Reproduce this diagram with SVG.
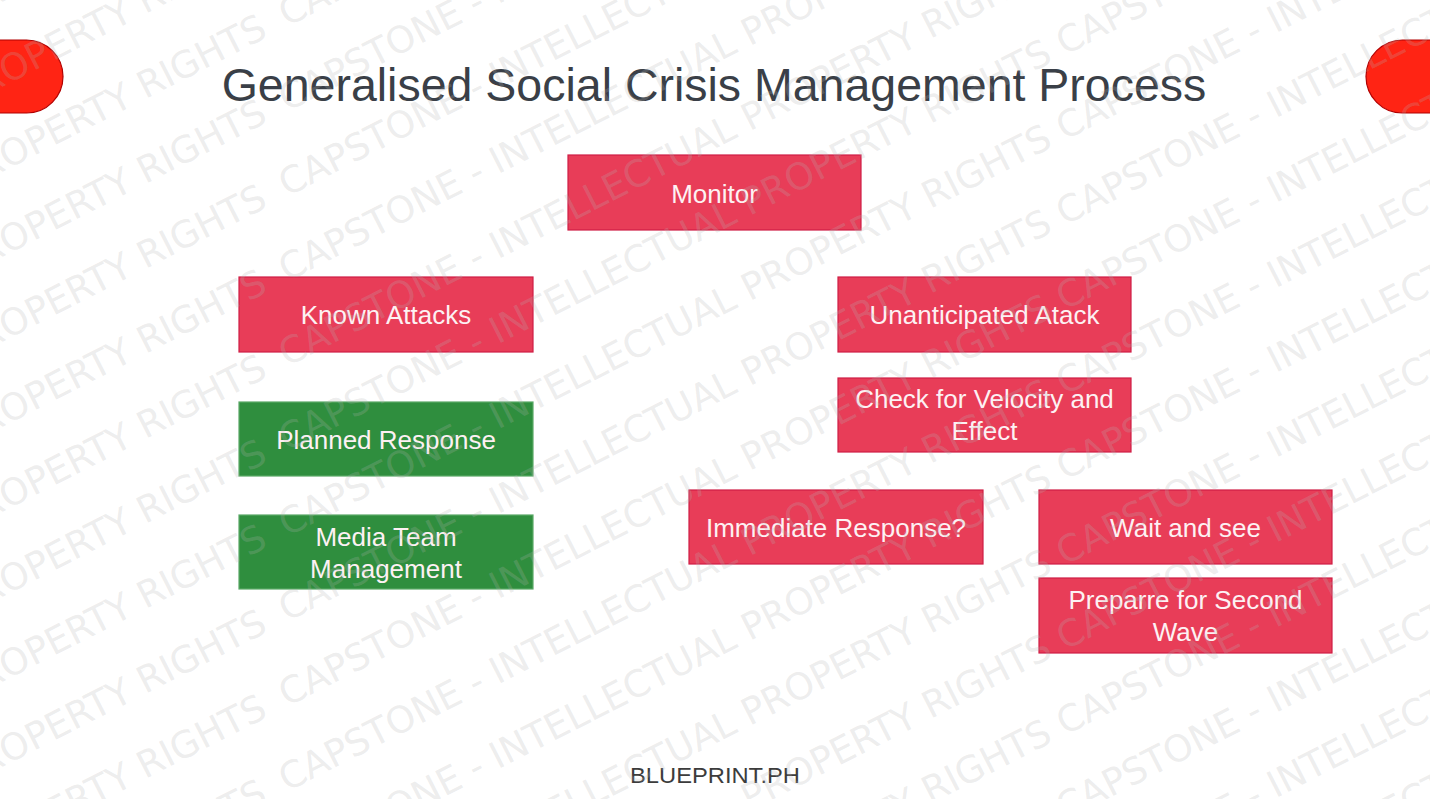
<svg xmlns="http://www.w3.org/2000/svg" width="1430" height="799" viewBox="0 0 1430 799">
  <style>
    .box-red { fill: #e83d58; stroke: #cf1d45; stroke-width: 1.2; }
    .box-green { fill: #2f8e3e; stroke: #5aa867; stroke-width: 1.2; }
    .lbl { font-family: "Liberation Sans", Arial, sans-serif; font-size: 26px; fill: #fdf1f3; text-anchor: middle; }
    .pill { fill: #ff2414; stroke: #b20000; stroke-width: 1.2; }
    .wm { font-family: "DejaVu Sans", Verdana, sans-serif; font-size: 37px; fill: #b4b4b4; fill-opacity: 0.24; }
    .wm-end { text-anchor: end; }
  </style>
  <rect width="1430" height="799" fill="#ffffff"/>

  <g id="decor">
    <rect class="pill" x="-40" y="40" width="103" height="73" rx="36.5"/>
    <rect class="pill" x="1366" y="40" width="110" height="73" rx="36.5"/>
  </g>

  <text id="title" x="714" y="101" font-family="Liberation Sans, Arial, sans-serif" font-size="46.5" fill="#3a3f47" text-anchor="middle">Generalised Social Crisis Management Process</text>

  <g id="connectors"></g>

  <g id="node-monitor">
    <rect class="box-red" x="568" y="155" width="293" height="75"/>
    <text class="lbl" x="714.5" y="203">Monitor</text>
  </g>
  <g id="node-known">
    <rect class="box-red" x="239" y="277" width="294" height="75"/>
    <text class="lbl" x="386" y="324">Known Attacks</text>
  </g>
  <g id="node-planned">
    <rect class="box-green" x="239" y="402" width="294" height="74"/>
    <text class="lbl" x="386" y="449">Planned Response</text>
  </g>
  <g id="node-media">
    <rect class="box-green" x="239" y="515" width="294" height="74"/>
    <text class="lbl" x="386" y="546">Media Team</text>
    <text class="lbl" x="386" y="578">Management</text>
  </g>
  <g id="node-unanticipated">
    <rect class="box-red" x="838" y="277" width="293" height="75"/>
    <text class="lbl" x="984.5" y="324">Unanticipated Atack</text>
  </g>
  <g id="node-check">
    <rect class="box-red" x="838" y="378" width="293" height="74"/>
    <text class="lbl" x="984.5" y="408">Check for Velocity and</text>
    <text class="lbl" x="984.5" y="440">Effect</text>
  </g>
  <g id="node-immediate">
    <rect class="box-red" x="689" y="490" width="294" height="74"/>
    <text class="lbl" x="836" y="537">Immediate Response?</text>
  </g>
  <g id="node-wait">
    <rect class="box-red" x="1039" y="490" width="293" height="74"/>
    <text class="lbl" x="1185.5" y="537">Wait and see</text>
  </g>
  <g id="node-prepare">
    <rect class="box-red" x="1039" y="578" width="293" height="75"/>
    <text class="lbl" x="1185.5" y="609">Preparre for Second</text>
    <text class="lbl" x="1185.5" y="641">Wave</text>
  </g>

  <text id="footer" x="715" y="783" font-family="Liberation Sans, Arial, sans-serif" font-size="22" fill="#3c3c3c" text-anchor="middle" textLength="170" lengthAdjust="spacingAndGlyphs">BLUEPRINT.PH</text>

  <g id="watermark" transform="rotate(-27)">
    <text class="wm wm-end" x="339.2" y="-72.8">CAPSTONE - INTELLECTUAL PROPERTY RIGHTS</text>
    <text class="wm" x="359.2" y="-72.8">CAPSTONE - INTELLECTUAL PROPERTY RIGHTS  CAPSTONE - INTELLECTUAL PROPERTY RIGHTS</text>
    <text class="wm wm-end" x="300.6" y="2.9">CAPSTONE - INTELLECTUAL PROPERTY RIGHTS</text>
    <text class="wm" x="320.6" y="2.9">CAPSTONE - INTELLECTUAL PROPERTY RIGHTS  CAPSTONE - INTELLECTUAL PROPERTY RIGHTS</text>
    <text class="wm wm-end" x="262.0" y="78.6">CAPSTONE - INTELLECTUAL PROPERTY RIGHTS</text>
    <text class="wm" x="282.0" y="78.6">CAPSTONE - INTELLECTUAL PROPERTY RIGHTS  CAPSTONE - INTELLECTUAL PROPERTY RIGHTS</text>
    <text class="wm wm-end" x="223.5" y="154.4">CAPSTONE - INTELLECTUAL PROPERTY RIGHTS</text>
    <text class="wm" x="243.5" y="154.4">CAPSTONE - INTELLECTUAL PROPERTY RIGHTS  CAPSTONE - INTELLECTUAL PROPERTY RIGHTS</text>
    <text class="wm wm-end" x="184.9" y="230.1">CAPSTONE - INTELLECTUAL PROPERTY RIGHTS</text>
    <text class="wm" x="204.9" y="230.1">CAPSTONE - INTELLECTUAL PROPERTY RIGHTS  CAPSTONE - INTELLECTUAL PROPERTY RIGHTS</text>
    <text class="wm wm-end" x="146.3" y="305.8">CAPSTONE - INTELLECTUAL PROPERTY RIGHTS</text>
    <text class="wm" x="166.3" y="305.8">CAPSTONE - INTELLECTUAL PROPERTY RIGHTS  CAPSTONE - INTELLECTUAL PROPERTY RIGHTS</text>
    <text class="wm wm-end" x="107.7" y="381.6">CAPSTONE - INTELLECTUAL PROPERTY RIGHTS</text>
    <text class="wm" x="127.7" y="381.6">CAPSTONE - INTELLECTUAL PROPERTY RIGHTS  CAPSTONE - INTELLECTUAL PROPERTY RIGHTS</text>
    <text class="wm wm-end" x="69.1" y="457.3">CAPSTONE - INTELLECTUAL PROPERTY RIGHTS</text>
    <text class="wm" x="89.1" y="457.3">CAPSTONE - INTELLECTUAL PROPERTY RIGHTS  CAPSTONE - INTELLECTUAL PROPERTY RIGHTS</text>
    <text class="wm wm-end" x="30.5" y="533.0">CAPSTONE - INTELLECTUAL PROPERTY RIGHTS</text>
    <text class="wm" x="50.5" y="533.0">CAPSTONE - INTELLECTUAL PROPERTY RIGHTS  CAPSTONE - INTELLECTUAL PROPERTY RIGHTS</text>
    <text class="wm wm-end" x="-8.1" y="608.8">CAPSTONE - INTELLECTUAL PROPERTY RIGHTS</text>
    <text class="wm" x="11.9" y="608.8">CAPSTONE - INTELLECTUAL PROPERTY RIGHTS  CAPSTONE - INTELLECTUAL PROPERTY RIGHTS</text>
    <text class="wm wm-end" x="-46.7" y="684.5">CAPSTONE - INTELLECTUAL PROPERTY RIGHTS</text>
    <text class="wm" x="-26.7" y="684.5">CAPSTONE - INTELLECTUAL PROPERTY RIGHTS  CAPSTONE - INTELLECTUAL PROPERTY RIGHTS</text>
    <text class="wm wm-end" x="-85.3" y="760.2">CAPSTONE - INTELLECTUAL PROPERTY RIGHTS</text>
    <text class="wm" x="-65.3" y="760.2">CAPSTONE - INTELLECTUAL PROPERTY RIGHTS  CAPSTONE - INTELLECTUAL PROPERTY RIGHTS</text>
    <text class="wm wm-end" x="-123.9" y="836.0">CAPSTONE - INTELLECTUAL PROPERTY RIGHTS</text>
    <text class="wm" x="-103.9" y="836.0">CAPSTONE - INTELLECTUAL PROPERTY RIGHTS  CAPSTONE - INTELLECTUAL PROPERTY RIGHTS</text>
    <text class="wm wm-end" x="-162.4" y="911.7">CAPSTONE - INTELLECTUAL PROPERTY RIGHTS</text>
    <text class="wm" x="-142.4" y="911.7">CAPSTONE - INTELLECTUAL PROPERTY RIGHTS  CAPSTONE - INTELLECTUAL PROPERTY RIGHTS</text>
    <text class="wm wm-end" x="-201.0" y="987.4">CAPSTONE - INTELLECTUAL PROPERTY RIGHTS</text>
    <text class="wm" x="-181.0" y="987.4">CAPSTONE - INTELLECTUAL PROPERTY RIGHTS  CAPSTONE - INTELLECTUAL PROPERTY RIGHTS</text>
    <text class="wm wm-end" x="-239.6" y="1063.2">CAPSTONE - INTELLECTUAL PROPERTY RIGHTS</text>
    <text class="wm" x="-219.6" y="1063.2">CAPSTONE - INTELLECTUAL PROPERTY RIGHTS  CAPSTONE - INTELLECTUAL PROPERTY RIGHTS</text>
    <text class="wm wm-end" x="-278.2" y="1138.9">CAPSTONE - INTELLECTUAL PROPERTY RIGHTS</text>
    <text class="wm" x="-258.2" y="1138.9">CAPSTONE - INTELLECTUAL PROPERTY RIGHTS  CAPSTONE - INTELLECTUAL PROPERTY RIGHTS</text>
    <text class="wm wm-end" x="-316.8" y="1214.6">CAPSTONE - INTELLECTUAL PROPERTY RIGHTS</text>
    <text class="wm" x="-296.8" y="1214.6">CAPSTONE - INTELLECTUAL PROPERTY RIGHTS  CAPSTONE - INTELLECTUAL PROPERTY RIGHTS</text>
    <text class="wm wm-end" x="-355.4" y="1290.4">CAPSTONE - INTELLECTUAL PROPERTY RIGHTS</text>
    <text class="wm" x="-335.4" y="1290.4">CAPSTONE - INTELLECTUAL PROPERTY RIGHTS  CAPSTONE - INTELLECTUAL PROPERTY RIGHTS</text>
    <text class="wm wm-end" x="-394.0" y="1366.1">CAPSTONE - INTELLECTUAL PROPERTY RIGHTS</text>
    <text class="wm" x="-374.0" y="1366.1">CAPSTONE - INTELLECTUAL PROPERTY RIGHTS  CAPSTONE - INTELLECTUAL PROPERTY RIGHTS</text>
    <text class="wm wm-end" x="-432.6" y="1441.8">CAPSTONE - INTELLECTUAL PROPERTY RIGHTS</text>
    <text class="wm" x="-412.6" y="1441.8">CAPSTONE - INTELLECTUAL PROPERTY RIGHTS  CAPSTONE - INTELLECTUAL PROPERTY RIGHTS</text>
  </g>
</svg>
